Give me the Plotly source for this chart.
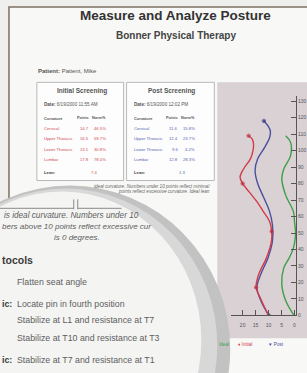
import plotly.graph_objects as go

W, H = 307, 373

# ---------------- data ----------------
ideal_height = [0, 9, 19, 29, 35, 41, 47, 51, 57, 63, 73, 83, 89, 97, 105, 109]
ideal_offset = [0.2, 3.4, 4.9, 4.1, 2.0, 0.4, -0.3, -0.4, 0.0, 0.4, 3.4, 4.9, 4.1, 1.5, 1.5, 3.4]

initial_height = [0, 10, 17, 25, 35, 45, 51, 57, 63, 69, 75, 80, 84, 89, 95, 100, 104, 107, 109]
initial_offset = [10.0, 13.0, 14.8, 13.8, 10.8, 8.9, 8.8, 9.6, 12.0, 14.5, 17.5, 20.0, 21.0, 19.6, 17.0, 16.0, 15.8, 16.3, 17.7]
initial_marks = [2, 6, 11, 18]

post_height = [0, 8, 17, 25, 35, 45, 55, 63, 72, 80, 88, 95, 102, 108, 112, 115, 118]
post_offset = [9.9, 12.7, 14.5, 13.0, 10.2, 8.5, 8.5, 9.6, 12.0, 14.2, 15.2, 14.2, 11.5, 9.6, 9.3, 10.2, 11.8]
post_marks = [0, 16]

x_ticks = [0, 5, 10, 15, 20]
y_ticks = list(range(0, 140, 10))

curvatures = ["Cervical", "Upper Thoracic", "Lower Thoracic", "Lumbar"]
initial_points = ["14.7", "16.5", "13.1", "17.8"]
initial_norm = ["46.5%", "59.7%", "30.8%", "78.0%"]
initial_lean = "7.4"
post_points = ["11.6", "12.4", "9.6", "12.8"]
post_norm = ["15.8%", "23.7%", "4.2%", "28.3%"]
post_lean = "1.3"

# ---------------- helpers ----------------
FONT = "Liberation Sans, Arial, sans-serif"


def px(x):
    return x / W


def py(y):
    return 1 - y / H


annotations = []


def ann(x, y, text, size, color="#444", xanchor="left", bold=False, italic=False):
    if bold:
        text = "<b>" + text + "</b>"
    if italic:
        text = "<i>" + text + "</i>"
    annotations.append(dict(
        x=px(x), y=py(y), xref="paper", yref="paper", text=text,
        showarrow=False, xanchor=xanchor, yanchor="middle",
        font=dict(family=FONT, size=size, color=color),
    ))


shapes = []


def rect(x0, y0, x1, y1, fill, line=None, lw=1, layer="below"):
    shapes.append(dict(
        type="rect", xref="paper", yref="paper",
        x0=px(x0), x1=px(x1), y0=py(y1), y1=py(y0),
        fillcolor=fill, line=dict(color=line or fill, width=lw if line else 0),
        layer=layer,
    ))


def ellipse(x0, y0, x1, y1, fill):
    shapes.append(dict(
        type="circle", xref="paper", yref="paper",
        x0=px(x0), x1=px(x1), y0=py(y1), y1=py(y0),
        fillcolor=fill, line=dict(width=0), layer="above",
    ))


def line(x0, y0, x1, y1, color="#8a8a8a", width=1):
    shapes.append(dict(
        type="line", xref="paper", yref="paper",
        x0=px(x0), x1=px(x1), y0=py(y0), y1=py(y1),
        line=dict(color=color, width=width), layer="above",
    ))


RED = "#d33b4b"
BLUE = "#4a4f9e"
GREEN = "#3f9e48"
TRED = "#d04a52"
TBLUE = "#5565b2"

# ---------------- background ----------------
rect(9, 7, 320, 390, "#f8f8f6", line="#7c7064", lw=1.5)
rect(218, 83, 320, 341, "#d9d1d4")
rect(37, 83, 124, 182, "#fdfdfd", line="#b8b8b8", lw=1)
rect(127, 83, 215, 182, "#fdfdfd", line="#b8b8b8", lw=1)

# ---------------- header text ----------------
ann(176, 16, "Measure and Analyze Posture", 13.5, "#333", "center", bold=True)
ann(177, 36, "Bonner Physical Therapy", 10, "#444", "center", bold=True)
ann(36, 72, "<b>Patient:</b> Patient, Mike", 6, "#555")

# ---------------- tables ----------------
row_y = [130, 140, 151, 161]
for (bx, title, date, pts, norms, lean, col, pr, nr, lx) in [
    (37, "Initial Screening", "6/19/2000 11:55 AM", initial_points, initial_norm, initial_lean, TRED, 91, 108, 94),
    (127, "Post Screening", "6/19/2000 12:02 PM", post_points, post_norm, post_lean, TBLUE, 181, 198, 183),
]:
    ann(bx + 45, 92, title, 6.5, "#555", "center", bold=True)
    ann(bx + 5, 105, "<b>Date:</b> " + date, 4.6, "#555")
    ann(bx + 5, 119, "Curvature", 3.9, "#555", bold=True)
    ann(pr, 119, "Points", 3.8, "#555", "right", bold=True)
    ann(nr, 119, "Norm%", 3.8, "#555", "right", bold=True)
    for i, name in enumerate(curvatures):
        ann(bx + 5, row_y[i], name, 4.2, col)
        ann(pr, row_y[i], pts[i], 4.2, col, "right")
        ann(nr, row_y[i], norms[i], 4.2, col, "right")
    ann(bx + 5, 174, "Lean:", 4.2, "#444", bold=True)
    ann(lx, 174, lean, 4.2, col, "center")

ann(213, 188, "ideal curvature. Numbers under 10 points reflect minimal", 4.6, "#666", "right", italic=True)
ann(213, 193.5, "points reflect excessive curvature. Ideal lean", 4.6, "#666", "right", italic=True)

# ---------------- magnifier lens ----------------
ellipse(-91, 187, 231, 517, "#c2c2c2")
ellipse(-86, 190, 218, 506, "#d8d8d8")
ellipse(-78, 193, 202, 493, "#f4f4f3")

line(0, 210, 74, 210)
line(74, 201, 74, 211)
line(78, 201, 78, 211)
line(78, 210, 122, 210)

MAG = "#5e5e5e"
ann(2, 217, "is ideal curvature. Numbers under 10", 8.2, MAG, italic=True)
ann(0, 228, "bers above 10 points reflect excessive cur", 8.0, MAG, italic=True)
ann(77, 239, "is 0 degrees.", 8.0, MAG, "center", italic=True)
ann(0, 262, "tocols", 10.5, "#3a3a3a", bold=True)
ann(15, 284, "Flatten seat angle", 8.8, MAG)
ann(0, 306, "ic:", 8.8, "#3a3a3a", bold=True)
ann(15, 306, "Locate pin in fourth position", 8.8, MAG)
ann(15, 323, "Stabilize at L1 and resistance at T7", 8.8, MAG)
ann(15, 341, "Stabilize at T10 and resistance at T3", 8.8, MAG)
ann(0, 363, "ic:", 8.8, "#3a3a3a", bold=True)
ann(15, 363, "Stabilize at T7 and resistance at T1", 8.8, MAG)

# ---------------- legend ----------------
ann(218, 347, "Ideal", 4.6, GREEN)
ann(237, 347, "♦ Initial", 4.6, RED)
ann(267, 347, "▼ Post", 4.6, BLUE)

# ---------------- chart ----------------
fig = go.Figure()


def sizes(n, idx, s):
    return [s if i in idx else 0 for i in range(n)]


fig.add_trace(go.Scatter(
    x=ideal_offset, y=ideal_height, mode="lines",
    line=dict(color=GREEN, width=1.4, shape="spline"), showlegend=False,
))
fig.add_trace(go.Scatter(
    x=post_offset, y=post_height, mode="lines+markers",
    line=dict(color=BLUE, width=1.4, shape="spline"),
    marker=dict(size=sizes(len(post_height), post_marks, 3.5), color="#2a2a50"),
    showlegend=False,
))
fig.add_trace(go.Scatter(
    x=initial_offset, y=initial_height, mode="lines+markers",
    line=dict(color=RED, width=1.4, shape="spline"),
    marker=dict(size=sizes(len(initial_height), initial_marks, 3.5), color="#b02838"),
    showlegend=False,
))

fig.update_layout(
    width=W, height=H,
    margin=dict(l=0, r=0, t=0, b=0),
    paper_bgcolor="#efefed",
    plot_bgcolor="rgba(0,0,0,0)",
    shapes=shapes,
    annotations=annotations,
    xaxis=dict(
        domain=[px(232), px(297)], range=[24.4, -0.6],
        tickvals=x_ticks, ticktext=[str(v) for v in x_ticks],
        showgrid=False, zeroline=False, showline=True, linecolor="#555", linewidth=1,
        ticks="inside", ticklen=5, tickcolor="#555",
        tickfont=dict(family=FONT, size=5, color="#555"),
        ticklabelstandoff=5,
        fixedrange=True,
    ),
    yaxis=dict(
        domain=[py(318), py(97)], range=[0, 133], side="right",
        tickvals=y_ticks, ticktext=[str(v) for v in y_ticks],
        showgrid=False, zeroline=False, showline=True, linecolor="#555", linewidth=1,
        ticks="inside", ticklen=5, tickcolor="#555",
        tickfont=dict(family=FONT, size=5, color="#555"),
        fixedrange=True,
    ),
)

fig.write_html(
    "out.html",
    config={"displayModeBar": False},
    post_script="document.body.style.margin='0';document.body.style.padding='0';document.body.style.overflow='hidden';",
)
